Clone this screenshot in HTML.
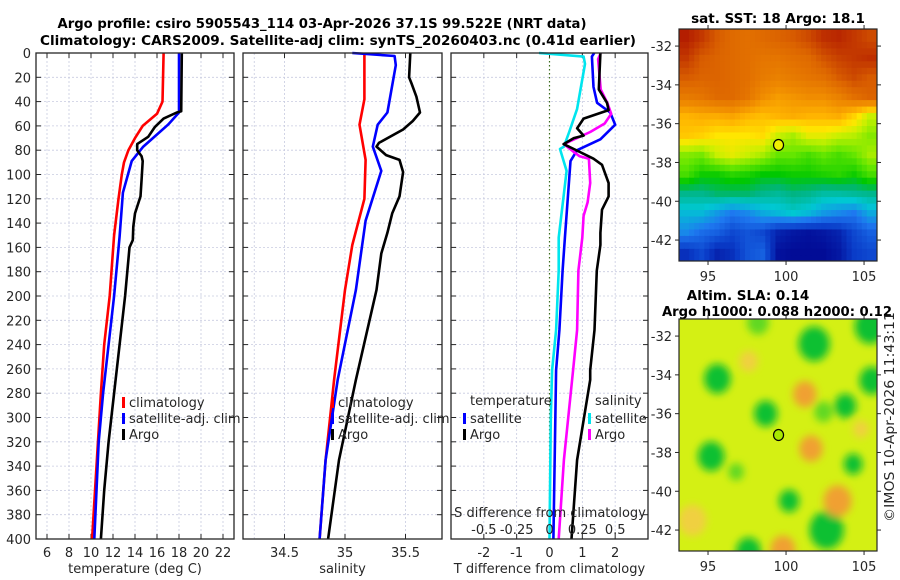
<!DOCTYPE html>
<html><head><meta charset="utf-8">
<style>
html,body{margin:0;padding:0;background:#fff;}
svg{display:block;font-family:"DejaVu Sans","Liberation Sans",sans-serif;}
.tk{font-size:13px;fill:#262626;}
.ttl{font-size:13.5px;font-weight:bold;fill:#000;}
</style></head>
<body>
<svg id="fig" width="900" height="580" viewBox="0 0 900 580" xmlns="http://www.w3.org/2000/svg">
<text class="ttl" x="322" y="28" text-anchor="middle" textLength="529" lengthAdjust="spacingAndGlyphs">Argo profile: csiro 5905543_114 03-Apr-2026 37.1S 99.522E (NRT data)</text>
<text class="ttl" x="338" y="45" text-anchor="middle" textLength="596" lengthAdjust="spacingAndGlyphs">Climatology: CARS2009. Satellite-adj clim: synTS_20260403.nc (0.41d earlier)</text>
<g id="p1"></g>
<g id="p2"></g>
<g id="p3"></g>
<g id="m1"></g>
<g id="m2"></g>
<text class="tk" transform="translate(894,417) rotate(-90)" text-anchor="middle" textLength="210" lengthAdjust="spacingAndGlyphs">©IMOS 10-Apr-2026 11:43:11</text>
</svg>
<script>
// ---------- profile data ----------
const depthTicks = [0,20,40,60,80,100,120,140,160,180,200,220,240,260,280,300,320,340,360,380,400];
const tempTicks = [6,8,10,12,14,16,18,20,22];
const salTicks = [34.5,35,35.5];
const tdiffTicks = [-2,-1,0,1,2];
const sdiffTickLabels = ["-0.5","-0.25","0","0.25","0.5"];

const climTDepth = [0,40,50,60,70,80,90,100,120,150,200,240,280,400];
const climTVal   = [16.6,16.5,16.0,14.7,14.0,13.4,13.0,12.8,12.5,12.1,11.7,11.2,10.9,10.1];
const satTDepth = [0,49,59,77,89,115,151,200,240,280,320,400];
const satTVal   = [18.0,18.0,17.0,14.75,13.7,12.9,12.6,12.1,11.6,11.1,10.7,10.3];
const argoTDepth = [0,48,49,54,61,69,75,80,85,89,104,118,132,143,154,160,200,240,280,320,360,400];
const argoTVal   = [18.25,18.2,17.8,16.6,15.8,15.2,14.2,14.2,14.6,14.7,14.6,14.5,14.0,13.85,13.8,13.5,13.1,12.6,12.1,11.6,11.2,10.9];

const climSDepth = [0,38,59,88,120,158,195,269,335,400];
const climSVal   = [35.16,35.16,35.12,35.17,35.16,35.06,35.0,34.91,34.84,34.79];
const satSDepth = [0,2.5,10,49,59,77,97,138,195,269,335,400];
const satSVal   = [35.06,35.41,35.42,35.35,35.27,35.23,35.30,35.17,35.09,34.94,34.84,34.79];
const argoSDepth = [0,20,25,36,49,56,63,74,77,84,88,98,118,132,148,165,195,269,335,400];
const argoSVal   = [35.54,35.53,35.55,35.59,35.62,35.56,35.48,35.28,35.26,35.34,35.45,35.48,35.45,35.39,35.35,35.30,35.26,35.09,34.95,34.86];

const dTsatDepth = [0,3,28,41,49,59,71,80,89,152,179,228,261,400];
const dTsatVal   = [1.36,1.29,1.34,1.45,1.85,2.0,1.55,0.84,0.64,0.47,0.4,0.3,0.2,0.12];
const dTargoDepth = [0,30,41,47,54,62,68,70,75,79,87,92,107,118,129,148,158,179,228,261,269,335,400];
const dTargoVal   = [1.55,1.5,1.75,1.8,1.04,0.84,1.04,0.74,0.43,0.74,1.34,1.6,1.8,1.8,1.6,1.55,1.55,1.44,1.37,1.24,1.24,0.84,0.67];
const dSsatDepth = [0,3,9,46,65,77,79,97,152,179,228,261,300,400];
const dSsatVal   = [-0.08,0.26,0.27,0.21,0.15,0.11,0.08,0.13,0.07,0.07,0.05,0.02,0.01,0.0];
const dSargoDepth = [0,5,30,41,50,58,65,75,81,85,87,107,123,134,152,179,228,261,335,400];
const dSargoVal   = [0.39,0.37,0.39,0.44,0.47,0.42,0.31,0.11,0.18,0.23,0.30,0.31,0.29,0.26,0.25,0.22,0.21,0.18,0.11,0.07];

// ---------- map data ----------
const sstLon0 = 93.14, sstLonStep = 0.976, sstLat0 = -31.12, sstLatStep = 1.0;
const sstGrid = [
 [20.5,20.2,19.8,19.6,19.5,19.6,19.7,19.8,20.0,20.3,20.4,20.2,20.0],
 [20.2,19.8,19.7,19.6,19.5,19.4,19.4,19.5,19.6,19.9,20.1,20.2,20.3],
 [19.8,19.7,19.7,19.6,19.5,19.3,19.2,19.3,19.4,19.5,19.8,20.0,19.8],
 [19.3,19.4,19.6,19.6,19.4,19.0,18.8,18.9,19.0,19.0,19.2,19.5,19.7],
 [18.5,18.6,18.6,18.7,18.5,18.4,18.5,18.6,18.5,18.5,18.6,18.2,17.6],
 [18.3,18.2,18.0,18.0,18.0,18.1,17.6,17.4,17.8,17.8,17.6,17.5,17.2],
 [17.2,17.1,17.6,17.8,17.6,17.4,17.0,17.0,16.8,17.0,16.8,17.0,17.4],
 [16.8,16.4,16.4,16.6,16.5,16.3,16.3,16.4,16.4,16.5,16.6,16.4,16.8],
 [15.6,15.6,15.8,15.8,15.8,15.6,15.5,15.7,15.6,15.4,15.4,15.5,15.6],
 [14.8,14.8,14.4,14.0,14.2,14.6,14.8,15.0,14.8,14.4,14.2,14.0,14.6],
 [14.2,13.8,13.6,13.2,13.4,13.2,12.6,12.4,12.3,12.4,12.6,13.2,13.6],
 [12.8,13.2,12.6,12.8,13.4,13.6,12.3,12.2,12.2,12.2,12.4,13.0,13.2]
];
const blobLon = [95.6,98.7,95.2,101.8,105.4,105.5,103.8,102.4,104.3,100.2,102.6,97.6,98.2,101.6,103.3,101.2,97.6,99.8,104.8,94.0,96.8];
const blobLat = [-34.2,-36.0,-38.2,-32.4,-31.5,-34.3,-35.6,-35.9,-38.6,-40.5,-42.0,-43.1,-31.3,-37.8,-40.5,-35.0,-33.3,-43.0,-36.8,-41.5,-39.0];
const blobR   = [0.85,0.75,0.85,1.0,1.0,0.8,0.7,0.6,0.6,0.65,1.1,0.8,0.7,0.75,0.9,0.75,0.6,0.8,0.5,0.9,0.5];
const blobVal = [-1,-1,-1,-1,-1,-1,-1,-0.7,-1,-1,-1,-1,-0.8,1,0.9,0.9,0.7,0.9,0.7,0.5,-0.5];
const argoLon = 99.52, argoLat = -37.1;
const mapLonTicks = [95,100,105];
const mapLatTicks = [-32,-34,-36,-38,-40,-42];

// ---------- helpers ----------
const NS = "http://www.w3.org/2000/svg";
function mk(parent, tag, attrs, text){
  const e = document.createElementNS(NS, tag);
  for (const k in attrs) e.setAttribute(k, attrs[k]);
  if (text !== undefined) e.textContent = text;
  parent.appendChild(e);
  return e;
}
const Y0 = 53, Y1 = 539;
const yD = d => Y0 + (d/400)*(Y1-Y0);
function linScale(d0,d1,r0,r1){ return v => r0 + (v-d0)/(d1-d0)*(r1-r0); }

function panelFrame(g, x0, x1, xTicks, xFn, xLabels, yLabels, xTitle, gridX){
  for (const d of depthTicks){
    if (d===0||d===400) continue;
    const l = mk(g,'line',{x1:x0,x2:x1,y1:yD(d),y2:yD(d),stroke:'#c8cbe0','stroke-width':0.8,'stroke-dasharray':'2,2'});
    
    
  }
  gridX.forEach(v=>{
    const l = mk(g,'line',{x1:xFn(v),x2:xFn(v),y1:Y0,y2:Y1,stroke:'#c8cbe0','stroke-width':0.8,'stroke-dasharray':'2,2'});
    
    
  });
  for (const d of depthTicks){
    const t1 = mk(g,'line',{x1:x0,x2:x0+5,y1:yD(d),y2:yD(d),stroke:'#262626','stroke-width':1});
    
    
    const t2 = mk(g,'line',{x1:x1-5,x2:x1,y1:yD(d),y2:yD(d),stroke:'#262626','stroke-width':1});
    
    
    if (yLabels){
      const t = mk(g,'text',{x:31,y:yD(d)+5,'text-anchor':'end',class:'tk'},String(d));
      
      
    }
  }
  xTicks.forEach((v,i)=>{
    const x = xFn(v);
    const a = mk(g,'line',{x1:x,x2:x,y1:Y1,y2:Y1-5,stroke:'#262626','stroke-width':1});
    
    
    const b = mk(g,'line',{x1:x,x2:x,y1:Y0,y2:Y0+5,stroke:'#262626','stroke-width':1});
    
    
    const t = mk(g,'text',{x:x,y:557,'text-anchor':'middle',class:'tk'},xLabels[i]);
    
    
  });
  const tt = mk(g,'text',{x:(x0+x1)/2,y:573,'text-anchor':'middle',class:'tk'},xTitle);
  
  
}
function border(g,x0,x1){
  const r = mk(g,'rect',{x:x0,y:Y0,width:x1-x0,height:Y1-Y0,fill:'none',stroke:'#262626','stroke-width':1.3});
  
  
}
function profile(g, depths, vals, xFn, color, name){
  const pts = depths.map((d,i)=>xFn(vals[i]).toFixed(1)+','+yD(d).toFixed(1)).join(' ');
  const p = mk(g,'polyline',{points:pts,fill:'none',stroke:color,'stroke-width':2.6,'stroke-linejoin':'round'});
  
  
}
function legend(g, x, y0, labels, colors, name){
  labels.forEach((lab,i)=>{
    const y = y0 + i*16;
    const r = mk(g,'rect',{x:x,y:y-10,width:3,height:11,fill:colors[i]});
    
    
    const t = mk(g,'text',{x:x+7,y:y,class:'tk'},lab);
    
    
  });
}

// ---------- panel 1 ----------
(function(){
  const g = document.getElementById('p1');
  const x0=36,x1=234, xf = linScale(5,23,x0,x1);
  panelFrame(g,x0,x1,tempTicks,xf,tempTicks.map(String),true,'temperature (deg C)',tempTicks);
  profile(g,climTDepth,climTVal,xf,'#ff0000','climatology-temp-line');
  profile(g,satTDepth,satTVal,xf,'#0000ff','satellite-temp-line');
  profile(g,argoTDepth,argoTVal,xf,'#000000','argo-temp-line');
  legend(g,122,407,['climatology','satellite-adj. clim','Argo'],['#ff0000','#0000ff','#000000'],'temp-legend');
  border(g,x0,x1);
})();
// ---------- panel 2 ----------
(function(){
  const g = document.getElementById('p2');
  const x0=243,x1=442, xf = linScale(35,35.5,345,405.5);
  panelFrame(g,x0,x1,salTicks,xf,salTicks.map(String),false,'salinity',[34.25,34.5,35,35.5]);
  profile(g,climSDepth,climSVal,xf,'#ff0000','climatology-sal-line');
  profile(g,satSDepth,satSVal,xf,'#0000ff','satellite-sal-line');
  profile(g,argoSDepth,argoSVal,xf,'#000000','argo-sal-line');
  legend(g,331,407,['climatology','satellite-adj. clim','Argo'],['#ff0000','#0000ff','#000000'],'sal-legend');
  border(g,x0,x1);
})();
// ---------- panel 3 ----------
(function(){
  const g = document.getElementById('p3');
  const x0=451,x1=648, xf = linScale(-3,3,x0,x1);
  const sf = v => xf(v*4);
  panelFrame(g,x0,x1,tdiffTicks,xf,tdiffTicks.map(String),false,'T difference from climatology',[-2,-1,1,2]);
  const z = mk(g,'line',{x1:xf(0),x2:xf(0),y1:Y0,y2:Y1,stroke:'#3a6a1a','stroke-width':1.2,'stroke-dasharray':'1.5,2.5'});
  
  
  profile(g,dSsatDepth,dSsatVal,sf,'#00e5ee','satellite-sal-diff-line');
  profile(g,dTsatDepth,dTsatVal,xf,'#0000ff','satellite-temp-diff-line');
  profile(g,dSargoDepth,dSargoVal,sf,'#ff00ff','argo-sal-diff-line');
  profile(g,dTargoDepth,dTargoVal,xf,'#000000','argo-temp-diff-line');
  legend(g,463,423,['satellite','Argo'],['#0000ff','#000000'],'tdiff-legend');
  const a = mk(g,'text',{x:470,y:405,class:'tk'},'temperature');  
  legend(g,588,423,['satellite','Argo'],['#00e5ee','#ff00ff'],'sdiff-legend');
  const b = mk(g,'text',{x:595,y:405,class:'tk'},'salinity');  
  const c = mk(g,'text',{x:550,y:517,'text-anchor':'middle',class:'tk'},'S difference from climatology');  
  sdiffTickLabels.forEach((lab,i)=>{
    const t = mk(g,'text',{x:sf(parseFloat(lab)),y:534,'text-anchor':'middle',class:'tk'},lab);
    
    
  });
  border(g,x0,x1);
})();

// ---------- maps ----------
const MX0=679, MX1=877;
const lonX = linScale(93.14,105.83,MX0,MX1);
const stops = [[12,[0,0,138]],[13,[10,60,200]],[14,[30,120,240]],[15,[0,200,210]],[15.7,[0,180,130]],[16.3,[0,200,0]],[17,[100,230,0]],[17.6,[200,240,0]],[18,[255,230,0]],[18.5,[255,180,0]],[19,[240,140,0]],[19.7,[220,100,0]],[20.5,[180,30,0]]];
function sstColor(v){
  if (v<=stops[0][0]) return 'rgb('+stops[0][1]+')';
  for (let i=1;i<stops.length;i++){
    if (v<=stops[i][0]){
      const f=(v-stops[i-1][0])/(stops[i][0]-stops[i-1][0]);
      const c=stops[i-1][1].map((a,k)=>Math.round(a+(stops[i][1][k]-a)*f));
      return 'rgb('+c+')';
    }
  }
  return 'rgb('+stops[stops.length-1][1]+')';
}
function mapAxes(g, MY0, MY1, latY, fillCol){
  const r = mk(g,'rect',{x:MX0,y:MY0,width:MX1-MX0,height:MY1-MY0,fill:'none',stroke:'#262626','stroke-width':1.2});
  
  
  mapLatTicks.forEach(v=>{
    const y=latY(v);
    const t1=mk(g,'line',{x1:MX0-4,x2:MX0,y1:y,y2:y,stroke:'#262626'});  
    const t2=mk(g,'line',{x1:MX1,x2:MX1+4,y1:y,y2:y,stroke:'#262626'});  
    const t=mk(g,'text',{x:672,y:y+5,'text-anchor':'end',class:'tk'},String(v));  
  });
  mapLonTicks.forEach(v=>{
    const x=lonX(v);
    const t1=mk(g,'line',{x1:x,x2:x,y1:MY1,y2:MY1+4,stroke:'#262626'});  
    const t2=mk(g,'line',{x1:x,x2:x,y1:MY0-4,y2:MY0,stroke:'#262626'});  
    const t=mk(g,'text',{x:x,y:MY1+20,'text-anchor':'middle',class:'tk'},String(v));  
  });
  const c=mk(g,'ellipse',{cx:lonX(argoLon),cy:latY(argoLat),rx:5,ry:5.5,fill:fillCol,stroke:'#000','stroke-width':1.2});
  
  
}
function sstAt(fi,fj){
  const R=sstGrid.length, C=sstGrid[0].length;
  fi=Math.max(0,Math.min(R-1,fi)); fj=Math.max(0,Math.min(C-1,fj));
  const i0=Math.floor(fi), j0=Math.floor(fj), i1=Math.min(R-1,i0+1), j1=Math.min(C-1,j0+1);
  const a=fi-i0, b=fj-j0;
  return (1-a)*((1-b)*sstGrid[i0][j0]+b*sstGrid[i0][j1]) + a*((1-b)*sstGrid[i1][j0]+b*sstGrid[i1][j1]);
}
// SST map
(function(){
  const g=document.getElementById('m1');
  const MY0=29, MY1=261;
  const latY = linScale(-31.12,-43.08,MY0,MY1);
  const t=mk(g,'text',{x:778,y:23,'text-anchor':'middle',class:'ttl'},'sat. SST: 18 Argo: 18.1');
  
  
  const cl=mk(g,'clipPath',{id:'c1'}); mk(cl,'rect',{x:MX0,y:MY0,width:MX1-MX0,height:MY1-MY0});
  const cg=mk(g,'g',{'clip-path':'url(#c1)'});
  const S=3;
  const R=sstGrid.length*S, C=sstGrid[0].length*S;
  for (let i=0;i<R;i++){
    for (let j=0;j<C;j++){
      const v=sstAt((i+0.5)/S-0.5,(j+0.5)/S-0.5);
      const la=sstLat0-i*sstLatStep/S, lo=sstLon0+j*sstLonStep/S;
      const x=lonX(lo), y=latY(la);
      const r=mk(cg,'rect',{x:x,y:y,width:lonX(lo+sstLonStep/S)-x+0.6,height:latY(la-sstLatStep/S)-y+0.6,fill:sstColor(v)});
      
      
    }
  }
  mapAxes(g,MY0,MY1,latY,'#f0f000');
})();
// SLA map
(function(){
  const g=document.getElementById('m2');
  const MY0=319, MY1=551;
  const latY = linScale(-31.12,-43.08,MY0,MY1);
  const t1=mk(g,'text',{x:748,y:300,'text-anchor':'middle',class:'ttl'},'Altim. SLA: 0.14');
  
  
  const t2=mk(g,'text',{x:777,y:316,'text-anchor':'middle',class:'ttl',textLength:230,lengthAdjust:'spacingAndGlyphs'},'Argo h1000: 0.088 h2000: 0.12');
  
  
  const defs=mk(g,'defs',{});
  const cl=mk(defs,'clipPath',{id:'c2'}); mk(cl,'rect',{x:MX0,y:MY0,width:MX1-MX0,height:MY1-MY0});
  const f=mk(defs,'filter',{id:'bl',x:'-50%',y:'-50%',width:'200%',height:'200%'}); mk(f,'feGaussianBlur',{stdDeviation:4});
  const cg=mk(g,'g',{'clip-path':'url(#c2)'});
  const bg=mk(cg,'rect',{x:MX0,y:MY0,width:MX1-MX0,height:MY1-MY0,fill:'#d4f014'});
  
  
  const bgz=mk(cg,'g',{filter:'url(#bl)'});
  blobLon.forEach((lo,i)=>{
    const v=blobVal[i];
    const col = v<0 ? (v<-0.9?'#10c030':'#60d820') : (v>0.8?'#f0a030':'#f0d040');
    const e=mk(bgz,'ellipse',{cx:lonX(lo),cy:latY(blobLat[i]),rx:blobR[i]*15.6,ry:blobR[i]*19.4*0.9,fill:col});
    
    
  });
  mapAxes(g,MY0,MY1,latY,'#a8e800');
})();
</script>
</body></html>
